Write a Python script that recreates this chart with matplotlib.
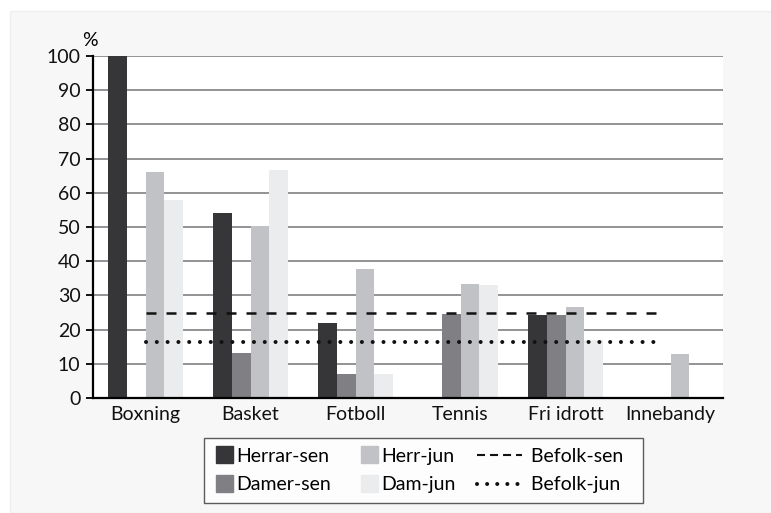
import numpy as np
import matplotlib.pyplot as plt
from matplotlib.patches import Rectangle, Patch
from matplotlib.lines import Line2D
from matplotlib.legend_handler import HandlerPatch

plt.rcParams['font.family'] = ['Lato', 'DejaVu Sans']

sports = ["Boxning", "Basket", "Fotboll", "Tennis", "Fri idrott", "Innebandy"]
herrar_sen = [100, 54.2, 22.0, 0, 24.2, 0]
damer_sen = [0, 13.3, 7.1, 24.6, 24.2, 0]
herr_jun = [66.0, 50.4, 37.6, 33.3, 26.5, 12.8]
dam_jun = [58.0, 66.8, 7.1, 33.0, 17.0, 0]
befolk_sen = 25.0
befolk_jun = 16.3

series = [("Herrar-sen", herrar_sen, "#363538"),
          ("Damer-sen", damer_sen, "#807f84"),
          ("Herr-jun", herr_jun, "#c0c2c5"),
          ("Dam-jun", dam_jun, "#ebecee")]

fig = plt.figure(figsize=(7.71, 5.13), dpi=100, facecolor="white")
fig.patches.append(Rectangle((10 / 771, 0), 1, 1 - 11 / 513, transform=fig.transFigure,
                             facecolor="#f7f7f7", edgecolor="#efefef", zorder=-10))

ax = fig.add_axes([93 / 771, 1 - 398 / 513, 630 / 771, 342 / 513])
ax.set_facecolor("white")

x = np.arange(len(sports))
w = 0.18
for i, (name, vals, col) in enumerate(series):
    ax.bar(x + (i - 1.5) * w, vals, width=w, color=col, label=name, zorder=3)

ax.plot([0, 4.87], [befolk_sen, befolk_sen], color="#111111", lw=1.8,
        linestyle=(0, (4, 4)), zorder=4)
ax.plot([0, 4.93], [befolk_jun, befolk_jun], color="#111111", lw=2.9,
        linestyle=(0, (0.01, 2.67)), dash_capstyle="round", zorder=4)

ax.set_xlim(-0.5, 5.5)
ax.set_ylim(0, 100)
ax.set_yticks(range(0, 101, 10))
ax.set_xticks(x)
ax.set_xticklabels(sports)
ax.yaxis.grid(True, color="#808083", lw=1.2, zorder=1)
ax.set_axisbelow(True)
for s in ["top", "right"]:
    ax.spines[s].set_visible(False)
ax.spines["left"].set_linewidth(1.6)
ax.spines["bottom"].set_linewidth(1.6)
ax.spines["left"].set_zorder(5)
ax.spines["bottom"].set_zorder(5)
ax.tick_params(axis="y", length=5, width=1.4, labelsize=14, pad=4, colors="#111111")
ax.tick_params(axis="x", length=0, labelsize=14, pad=6, colors="#111111")
fig.text(90 / 771, 1 - 40 / 513, "%", fontsize=14, ha="center", va="center")


def square(legend, orig_handle, xdescent, ydescent, width, height, fontsize):
    s = 17 * 0.72
    return Rectangle((width - s - xdescent, -ydescent + height / 2 - s / 2), s, s)


class WideLine:
    # draws the line wider than the handle box, reaching into the spaces before the label
    def legend_artist(self, legend, orig_handle, fontsize, handlebox):
        x0, y0 = -handlebox.xdescent, -handlebox.ydescent
        yc = y0 + handlebox.height / 2
        line = Line2D([], [])
        line.update_from(orig_handle)
        line.set_data([x0 - 5, x0 + 27.5], [yc, yc])
        handlebox.add_artist(line)
        return line


handles = [Patch(color=series[0][2], label="Herrar-sen"),
           Patch(color=series[1][2], label="Damer-sen"),
           Patch(color=series[2][2], label="Herr-jun"),
           Patch(color=series[3][2], label="Dam-jun"),
           Line2D([], [], color="#111111", lw=1.5, linestyle=(0, (3.85, 2.4)),
                  label="     Befolk-sen  "),
           Line2D([], [], color="#111111", lw=2.9, linestyle=(0, (0.01, 2.5)),
                  dash_capstyle="round", label="     Befolk-jun  ")]
leg = fig.legend(handles=handles, ncol=3, loc="center", bbox_to_anchor=(423.5 / 771, 1 - 470.5 / 513),
                 fontsize=14, frameon=True, fancybox=False, edgecolor="#333333",
                 handlelength=1.0, handletextpad=0.15, columnspacing=1.45, labelspacing=0.6,
                 borderpad=0.5,
                 handler_map={Patch: HandlerPatch(patch_func=square), Line2D: WideLine()})
leg.get_frame().set_linewidth(1.0)

fig.savefig("out.png", dpi=100, facecolor=fig.get_facecolor())
